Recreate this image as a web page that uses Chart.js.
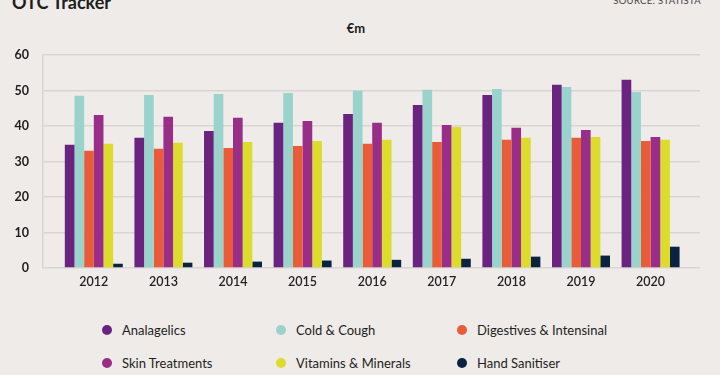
<!DOCTYPE html>
<html>
<head>
<meta charset="utf-8">
<script src="https://cdn.jsdelivr.net/npm/chart.js@4.4.1/dist/chart.umd.min.js"></script>
<style>
  html, body { margin: 0; padding: 0; }
  body { width: 720px; height: 375px; background: #efebe8; position: relative; overflow: hidden; font-family: Lato, "Open Sans", sans-serif; color: #1e1e1e; }
  #title { position: absolute; left: 12px; top: -8px; font-size: 18px; font-weight: 700; line-height: 20px; white-space: nowrap; }
  #source { position: absolute; right: 19px; top: -5px; font-size: 9.5px; line-height: 12px; color: #444; white-space: nowrap; letter-spacing: 0.3px; }
  #unit { position: absolute; left: 0; width: 712px; text-align: center; top: 20px; font-size: 13px; font-weight: 700; line-height: 16px; }
  #chart { position: absolute; left: 0; top: 0; }
  .lg { position: absolute; font-size: 13px; line-height: 16px; white-space: nowrap; color: #1e1e1e; }
  .lg i { position: absolute; width: 10px; height: 10px; border-radius: 50%; left: -20px; top: 3px; }
</style>
</head>
<body>
<div id="title">OTC Tracker</div>
<div id="source">SOURCE: STATISTA</div>
<div id="unit">€m</div>
<canvas id="chart" width="720" height="300"></canvas>
<div id="legend"></div>
<script>
const categories = ["2012", "2013", "2014", "2015", "2016", "2017", "2018", "2019", "2020"];
const seriesNames = ["Analagelics", "Cold & Cough", "Digestives & Intensinal", "Skin Treatments", "Vitamins & Minerals", "Hand Sanitiser"];
const analgesics = [34.7, 36.7, 38.6, 40.9, 43.4, 45.9, 48.75, 51.6, 53.0];
const coldCough = [48.5, 48.75, 49.0, 49.3, 49.9, 50.2, 50.4, 51.0, 49.6];
const digestives = [33.0, 33.6, 33.8, 34.4, 35.0, 35.5, 36.1, 36.7, 35.8];
const skinTreatments = [43.1, 42.6, 42.3, 41.4, 40.9, 40.3, 39.5, 38.9, 36.9];
const vitamins = [35.0, 35.25, 35.5, 35.8, 36.1, 39.75, 36.7, 36.9, 36.1];
const handSanitiser = [1.2, 1.5, 1.8, 2.1, 2.3, 2.6, 3.2, 3.5, 6.0];
const yTicks = [0, 10, 20, 30, 40, 50, 60];

const seriesValues = [analgesics, coldCough, digestives, skinTreatments, vitamins, handSanitiser];
const colors = ["#6a2480", "#99d3cc", "#e85c38", "#982e87", "#dddc2d", "#0b2241"];

const datasets = seriesNames.map((name, i) => ({
  label: name,
  data: seriesValues[i].map((v, j) => ({ x: j, y: v })),
  backgroundColor: colors[i],
  borderWidth: 0,
  categoryPercentage: 0.833,
  barPercentage: 1.0
}));

const gridColor = "#d8d5d2";

new Chart(document.getElementById("chart"), {
  type: "bar",
  data: { datasets },
  options: {
    responsive: false,
    animation: false,
    layout: { padding: { left: 0, right: 20, top: 55, bottom: 10 } },
    plugins: { legend: { display: false }, tooltip: { enabled: false }, title: { display: false } },
    scales: {
      x: {
        type: "linear",
        min: -0.73,
        max: 8.71,
        offset: false,
        grid: { display: false, drawTicks: false },
        border: { display: false },
        ticks: {
          stepSize: 1,
          includeBounds: false,
          autoSkip: false,
          maxRotation: 0,
          padding: 6,
          color: "#222",
          font: { family: "Lato", size: 12.5, weight: "600" },
          callback: (v) => categories[v] !== undefined ? categories[v] : ""
        },
        afterFit: (s) => { s.height = 22; }
      },
      y: {
        min: yTicks[0],
        max: yTicks[yTicks.length - 1],
        grid: { color: gridColor, lineWidth: 1.5, drawTicks: false },
        border: { display: true, color: gridColor, width: 1.5 },
        ticks: {
          stepSize: 10,
          padding: 14,
          color: "#1e1e1e",
          font: { family: "Lato", size: 12.5, weight: "bold" }
        },
        afterFit: (s) => { s.width = 43; }
      }
    }
  }
});

// legend (3 columns x 2 rows)
const lgX = [122, 296, 477];
const lgY = [322, 355];
const legend = document.getElementById("legend");
seriesNames.forEach((name, i) => {
  const d = document.createElement("div");
  d.className = "lg";
  d.style.left = lgX[i % 3] + "px";
  d.style.top = lgY[Math.floor(i / 3)] + "px";
  d.innerHTML = '<i style="background:' + colors[i] + '"></i>' + name;
  legend.appendChild(d);
});
</script>
</body>
</html>
